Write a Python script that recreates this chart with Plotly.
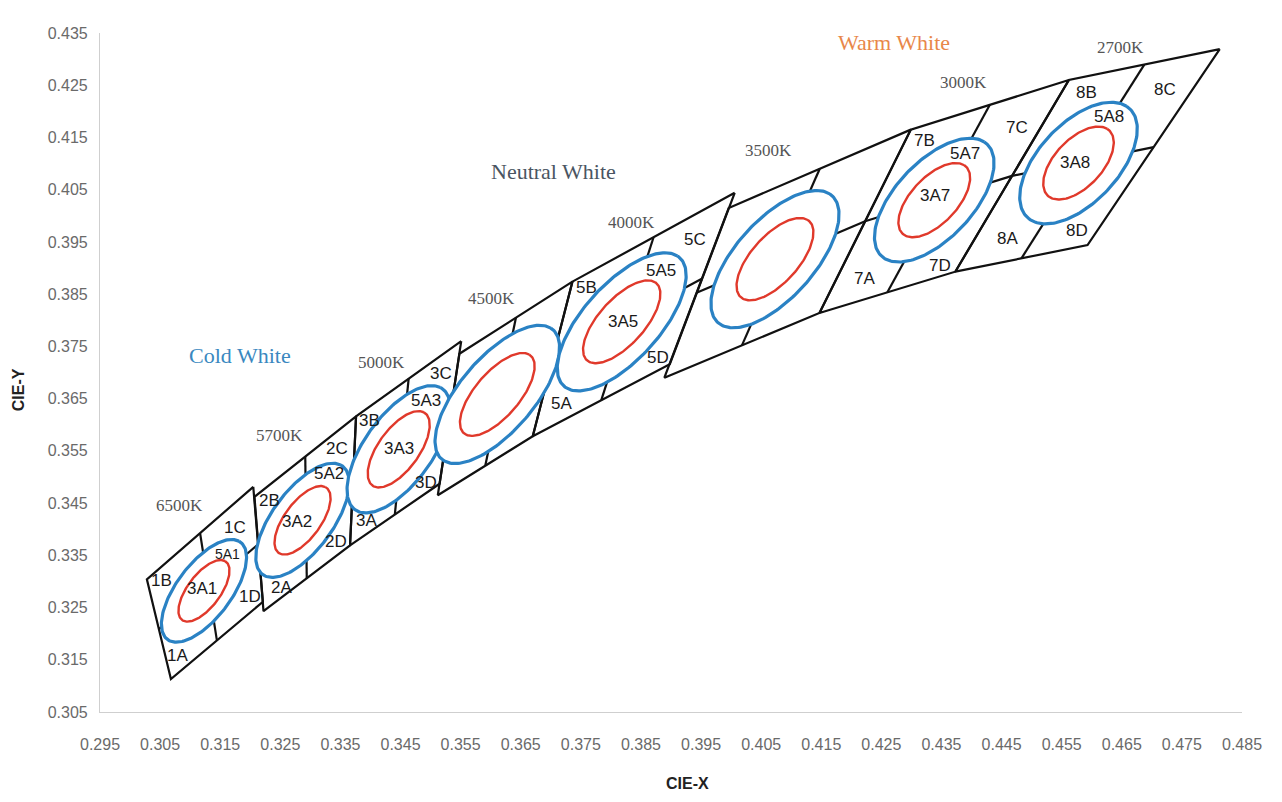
import numpy as np
import plotly.graph_objects as go

# ---------------- data ----------------
cct_names = ["6500K", "5700K", "5000K", "4500K", "4000K", "3500K", "3000K", "2700K"]

# ANSI C78.377 quadrangle corners (order: top-right, top-left, bottom-left, bottom-right)
quad_x = [
    [0.3205, 0.3028, 0.3068, 0.3221],
    [0.3376, 0.3207, 0.3222, 0.3366],
    [0.3551, 0.3376, 0.3366, 0.3515],
    [0.3736, 0.3548, 0.3512, 0.3670],
    [0.4006, 0.3736, 0.3670, 0.3898],
    [0.4299, 0.3996, 0.3889, 0.4147],
    [0.4562, 0.4299, 0.4147, 0.4373],
    [0.4813, 0.4562, 0.4373, 0.4593],
]
quad_y = [
    [0.3481, 0.3304, 0.3113, 0.3261],
    [0.3616, 0.3462, 0.3243, 0.3369],
    [0.3760, 0.3616, 0.3369, 0.3487],
    [0.3874, 0.3736, 0.3465, 0.3578],
    [0.4044, 0.3874, 0.3578, 0.3716],
    [0.4165, 0.4015, 0.3690, 0.3814],
    [0.4260, 0.4165, 0.3814, 0.3893],
    [0.4319, 0.4260, 0.3893, 0.3944],
]

# MacAdam ellipse centres and 1-step parameters
center_x = [0.3123, 0.3287, 0.3447, 0.3611, 0.3818, 0.4073, 0.4338, 0.4578]
center_y = [0.3282, 0.3417, 0.3553, 0.3658, 0.3797, 0.3917, 0.4030, 0.4101]
ell_a = [0.00223, 0.00247, 0.00274, 0.00310, 0.00313, 0.00309, 0.00278, 0.00270]
ell_b = [0.00095, 0.00105, 0.00118, 0.00130, 0.00134, 0.00138, 0.00136, 0.00140]
ell_theta = [58.6, 59.1, 59.6, 55.0, 53.7, 54.0, 53.2, 53.7]
outer_step = 5
inner_step = 3

# CCT labels
cct_label_x = [0.30827, 0.32485, 0.34177, 0.36017, 0.38339, 0.40626, 0.43862, 0.46482]
cct_label_y = [0.34463, 0.35803, 0.37201, 0.38426, 0.39881, 0.41260, 0.42543, 0.43213]

# category labels
cat_text = ["Cold White", "Neutral White", "Warm White"]
cat_x = [0.31822, 0.37046, 0.42717]
cat_y = [0.37335, 0.40839, 0.43309]
cat_color = ["#3a88bf", "#4a5562", "#e8874a"]

# bin labels
bin_text = ["1A", "1B", "1C", "1D", "2A", "2B", "2C", "2D", "3A", "3B", "3C", "3D",
            "5A", "5B", "5C", "5D", "7A", "7B", "7C", "7D", "8A", "8B", "8C", "8D"]
bin_x = [0.30794, 0.30528, 0.31739, 0.31988, 0.32518, 0.32319, 0.33447, 0.33430,
         0.33928, 0.33978, 0.35172, 0.34923, 0.37178, 0.37593, 0.39401, 0.38787,
         0.42220, 0.43215, 0.44757, 0.43480, 0.44591, 0.45918, 0.47211, 0.45752]
bin_y = [0.31591, 0.33027, 0.34023, 0.32702, 0.32893, 0.34559, 0.35554, 0.33755,
         0.34176, 0.36090, 0.36990, 0.34903, 0.36416, 0.38618, 0.39537, 0.37278,
         0.38809, 0.41451, 0.41700, 0.39058, 0.39575, 0.42370, 0.42409, 0.39728]

# ellipse labels
ell_text = ["5A1", "3A1", "5A2", "3A2", "5A3", "3A3", "5A5", "3A5", "5A7", "3A7", "5A8", "3A8"]
ell_lx = [0.31623, 0.31192, 0.33314, 0.32784, 0.34923, 0.34475, 0.38837, 0.38206,
          0.43895, 0.43397, 0.46283, 0.45719]
ell_ly = [0.33525, 0.32874, 0.35057, 0.34138, 0.36473, 0.35554, 0.38962, 0.37967,
          0.41202, 0.40398, 0.41892, 0.41030]

x_ticks = [round(0.295 + 0.01 * i, 3) for i in range(20)]
y_ticks = [round(0.305 + 0.01 * i, 3) for i in range(14)]

# ---------------- figure ----------------
fig = go.Figure()

# quadrangle outlines and dividers
ox, oy, dx, dy = [], [], [], []
for qx, qy in zip(quad_x, quad_y):
    ox += qx + [qx[0], None]
    oy += qy + [qy[0], None]
    top = ((qx[0] + qx[1]) / 2, (qy[0] + qy[1]) / 2)
    bot = ((qx[2] + qx[3]) / 2, (qy[2] + qy[3]) / 2)
    lef = ((qx[1] + qx[2]) / 2, (qy[1] + qy[2]) / 2)
    rig = ((qx[0] + qx[3]) / 2, (qy[0] + qy[3]) / 2)
    dx += [top[0], bot[0], None, lef[0], rig[0], None]
    dy += [top[1], bot[1], None, lef[1], rig[1], None]

fig.add_trace(go.Scatter(x=dx, y=dy, mode="lines", line=dict(color="#111111", width=2.2),
                         hoverinfo="skip", showlegend=False))
fig.add_trace(go.Scatter(x=ox, y=oy, mode="lines", line=dict(color="#111111", width=2.2),
                         hoverinfo="skip", showlegend=False))

t = np.linspace(0, 2 * np.pi, 181)


def ellipse(cx, cy, a, b, th, s):
    r = np.radians(th)
    ex = cx + s * (a * np.cos(r) * np.cos(t) - b * np.sin(r) * np.sin(t))
    ey = cy + s * (a * np.sin(r) * np.cos(t) + b * np.cos(r) * np.sin(t))
    return ex, ey


for i in range(len(cct_names)):
    ex, ey = ellipse(center_x[i], center_y[i], ell_a[i], ell_b[i], ell_theta[i], outer_step)
    fig.add_trace(go.Scatter(x=ex, y=ey, mode="lines", fill="toself", fillcolor="white",
                             line=dict(color="#2a82c4", width=3.2),
                             hoverinfo="skip", showlegend=False))
    ex, ey = ellipse(center_x[i], center_y[i], ell_a[i], ell_b[i], ell_theta[i], inner_step)
    fig.add_trace(go.Scatter(x=ex, y=ey, mode="lines",
                             line=dict(color="#e0392b", width=2.4),
                             hoverinfo="skip", showlegend=False))

sans = "Liberation Sans, Arial, sans-serif"
serif = "Liberation Serif, Times New Roman, serif"

ann = []
for name, x, y in zip(cct_names, cct_label_x, cct_label_y):
    ann.append(dict(x=x, y=y, text=name, showarrow=False, xref="x", yref="y",
                    font=dict(family=serif, size=17, color="#555555")))
for name, x, y, c in zip(cat_text, cat_x, cat_y, cat_color):
    ann.append(dict(x=x, y=y, text=name, showarrow=False, xref="x", yref="y",
                    font=dict(family=serif, size=22, color=c)))
for name, x, y in zip(bin_text, bin_x, bin_y):
    ann.append(dict(x=x, y=y, text=name, showarrow=False, xref="x", yref="y",
                    font=dict(family=sans, size=17, color="#1a1a1a")))
for name, x, y in zip(ell_text, ell_lx, ell_ly):
    sz = 14 if name == "5A1" else 17
    ann.append(dict(x=x, y=y, text=name, showarrow=False, xref="x", yref="y",
                    font=dict(family=sans, size=sz, color="#1a1a1a")))

# axis titles (page pixel positions converted to paper coordinates of the plot area)
PL, PR, PT, PB = 100, 1246, 33, 712
title_font = dict(family=sans, size=16, color="#222222")
ann.append(dict(x=(690 - PL) / (PR - PL), y=(PB - 783) / (PB - PT), xref="paper", yref="paper",
                xanchor="center", yanchor="middle",
                text="<b>CIE-X</b>", showarrow=False, font=title_font))
ann.append(dict(x=(18 - PL) / (PR - PL), y=(PB - 390) / (PB - PT), xref="paper", yref="paper",
                xanchor="center", yanchor="middle",
                text="<b>CIE-Y</b>", showarrow=False, font=title_font, textangle=-90))

tickfont = dict(family=sans, size=16, color="#6a6a6a")

# page has an 8px body margin; size the figure so the plot area lands at PL..PR, PT..PB
W, H = 1266, 786
fig.update_layout(
    width=W, height=H,
    margin=dict(l=PL - 8, r=W + 8 - PR, t=PT - 8, b=H + 8 - PB),
    paper_bgcolor="white", plot_bgcolor="white",
    showlegend=False,
    annotations=ann,
    xaxis=dict(range=[0.295, 0.485], tickmode="array", tickvals=x_ticks,
               ticktext=[f"{v:.3f}" for v in x_ticks], showgrid=False, zeroline=False,
               showline=True, linecolor="#cfcfcf", linewidth=1.2, ticks="",
               ticklabelstandoff=18, tickfont=tickfont),
    yaxis=dict(range=[0.305, 0.435], tickmode="array", tickvals=y_ticks,
               ticktext=[f"{v:.3f}" for v in y_ticks], showgrid=False, zeroline=False,
               showline=True, linecolor="#cfcfcf", linewidth=1.2, ticks="",
               ticklabelstandoff=8, tickfont=tickfont),
)

fig.write_html("out.html")
